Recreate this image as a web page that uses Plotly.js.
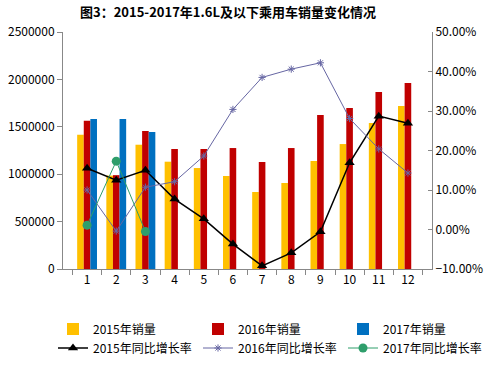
<!DOCTYPE html>
<html>
<head>
<meta charset="utf-8">
<script src="https://cdn.plot.ly/plotly-3.0.1.min.js"></script>
<style>html,body{margin:0;padding:0;background:#fff}#chart{width:501px;height:366px}</style>
</head>
<body>
<div id="chart"></div>
<script>
const months = ['1','2','3','4','5','6','7','8','9','10','11','12'];
const sales2015 = [1416000, 985000, 1311000, 1132000, 1065000, 981000, 812000, 907000, 1139000, 1318000, 1540000, 1719000];
const sales2016 = [1564000, 990000, 1456000, 1266000, 1266000, 1276000, 1129000, 1276000, 1624000, 1698000, 1867000, 1962000];
const sales2017 = [1582000, 1582000, 1445000, null, null, null, null, null, null, null, null, null];
const growth2015 = [0.155, 0.125, 0.150, 0.077, 0.027, -0.037, -0.092, -0.059, -0.006, 0.169, 0.287, 0.269];
const growth2016 = [0.100, -0.004, 0.107, 0.121, 0.186, 0.304, 0.385, 0.406, 0.422, 0.281, 0.204, 0.143];
const growth2017 = [0.011, 0.173, -0.005, null, null, null, null, null, null, null, null, null];

const font = {family: 'Noto Sans CJK SC, Noto Sans, sans-serif', size: 12, color: '#000'};

const traces = [
  {type:'bar', x:months, y:sales2015, name:'2015年销量', marker:{color:'#FFC000'}, legend:'legend'},
  {type:'bar', x:months, y:sales2016, name:'2016年销量', marker:{color:'#C00000'}, legend:'legend2'},
  {type:'bar', x:months, y:sales2017, name:'2017年销量', marker:{color:'#0070C0'}, legend:'legend3'},
  {type:'scatter', mode:'lines+markers', x:months, y:growth2015, yaxis:'y2', name:'2015年同比增长率',
   line:{color:'#000', width:1.5}, marker:{symbol:'triangle-up', size:9, color:'#000'}, legend:'legend'},
  {type:'scatter', mode:'lines+markers', x:months, y:growth2016, yaxis:'y2', name:'2016年同比增长率',
   line:{color:'#6666A3', width:1}, marker:{symbol:'asterisk-open', size:6, color:'#6666A3', line:{color:'#6666A3', width:1}}, legend:'legend2'},
  {type:'scatter', mode:'lines+markers', x:months, y:growth2017, yaxis:'y2', name:'2017年同比增长率',
   line:{color:'#2E9E6B', width:1}, marker:{symbol:'circle', size:9, color:'#2E9E6B'}, legend:'legend3', connectgaps:false}
];

function leg(xpx) {
  return {orientation:'v', x:(xpx-63)/369, xanchor:'left', y:-0.192, yanchor:'top', font:font,
          bgcolor:'rgba(0,0,0,0)', itemwidth:30, tracegroupgap:0, traceorder:'normal'};
}

const layout = {
  width:501, height:366,
  margin:{l:63, r:69, t:32, b:97, autoexpand:false},
  paper_bgcolor:'#fff', plot_bgcolor:'#fff',
  font: font,
  title:{text:'<b>图3：2015-2017年1.6L及以下乘用车销量变化情况</b>', x:0.455, xanchor:'center', y:0.965, yanchor:'middle', font:{family:'Noto Sans CJK SC, sans-serif', size:13, color:'#000'}},
  barmode:'group', bargap:0.32, bargroupgap:0,
  xaxis:{type:'category', showline:true, linecolor:'#888', linewidth:1, ticks:'outside', tickson:'boundaries', ticklen:5, tickcolor:'#888', showgrid:false, zeroline:false, tickfont:font},
  yaxis:{range:[0,2500000], dtick:500000, tickformat:'d', showline:true, linecolor:'#888', ticks:'outside', ticklen:5, tickcolor:'#888', showgrid:false, zeroline:false, tickfont:font},
  yaxis2:{overlaying:'y', side:'right', range:[-0.1,0.5], dtick:0.1, tickformat:'.2%', showline:true, linecolor:'#888', ticks:'inside', ticklen:4, tickcolor:'#888', showgrid:false, zeroline:false, tickfont:font},
  legend: leg(53),
  legend2: leg(198),
  legend3: leg(343),
  showlegend:true
};

Plotly.newPlot('chart', traces, layout, {displayModeBar:false, staticPlot:true});
</script>
</body>
</html>
